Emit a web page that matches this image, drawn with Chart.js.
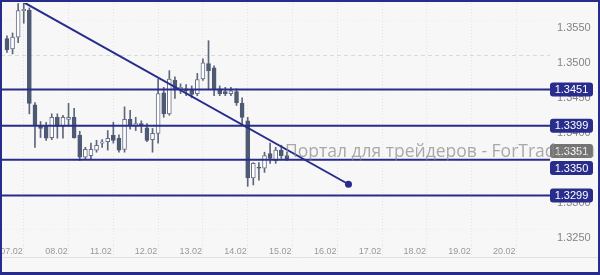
<!DOCTYPE html>
<html>
<head>
<meta charset="utf-8">
<script src="https://cdn.jsdelivr.net/npm/chart.js@4.4.1/dist/chart.umd.min.js"></script>
<style>
  html, body { margin: 0; padding: 0; background: #f7f7f7; }
  #frame { width: 596px; height: 270px; border: 2px solid #262b8c; border-bottom-width: 3px; background: #f7f7f7; overflow: hidden; }
  canvas { display: block; margin-left: -5px; margin-top: -3px; }
</style>
</head>
<body>
<div id="frame"><canvas id="c" width="601" height="273"></canvas></div>
<script>
// 3-hour candles, index 0 = 07.02 03:00, 8 candles per trading day
const opens  = [1.3524, 1.3509, 1.3526, 1.3564, 1.3565, 1.3429, 1.3399, 1.3398, 1.3382, 1.3411,
                1.3398, 1.3408, 1.3411, 1.3385, 1.3354, 1.3356, 1.3364, 1.3374, 1.3376, 1.3385,
                1.3381, 1.3365, 1.3408, 1.3399, 1.3402, 1.3396, 1.3379, 1.3388, 1.3446, 1.3416,
                1.3464, 1.3452, 1.3452, 1.3451, 1.3445, 1.3466, 1.3488, 1.3482, 1.3452, 1.3448,
                1.3445, 1.3448, 1.3431, 1.3406, 1.3324, 1.3339, 1.3338, 1.3359, 1.3349, 1.3364,
                1.3356];
const highs  = [1.3528, 1.3532, 1.3574, 1.3576, 1.3568, 1.3432, 1.3405, 1.3404, 1.3416, 1.3416,
                1.3414, 1.3431, 1.3424, 1.3391, 1.3368, 1.3374, 1.3378, 1.3379, 1.3392, 1.3404,
                1.3386, 1.3426, 1.3421, 1.3411, 1.3406, 1.3402, 1.3395, 1.3466, 1.3454, 1.3478,
                1.3469, 1.3459, 1.3458, 1.3456, 1.3474, 1.3495, 1.3521, 1.3485, 1.3456, 1.3454,
                1.3454, 1.3452, 1.3439, 1.3411, 1.3346, 1.3346, 1.3361, 1.3374, 1.3368, 1.3371,
                1.3361];
const lows   = [1.3504, 1.3502, 1.3518, 1.3546, 1.3416, 1.3368, 1.3382, 1.3378, 1.3379, 1.3381,
                1.3381, 1.3398, 1.3381, 1.3349, 1.3351, 1.3351, 1.3361, 1.3368, 1.3364, 1.3374,
                1.3361, 1.3361, 1.3394, 1.3392, 1.3389, 1.3376, 1.3361, 1.3374, 1.3411, 1.3414,
                1.3438, 1.3445, 1.3442, 1.3439, 1.3442, 1.3464, 1.3452, 1.3442, 1.3442, 1.3442,
                1.3442, 1.3428, 1.3399, 1.3312, 1.3314, 1.3321, 1.3332, 1.3345, 1.3345, 1.3352,
                1.3349];
const closes = [1.3508, 1.3526, 1.3564, 1.3566, 1.3431, 1.3399, 1.3395, 1.3381, 1.3411, 1.3398,
                1.3411, 1.3411, 1.3382, 1.3354, 1.3365, 1.3365, 1.3371, 1.3376, 1.3381, 1.3378,
                1.3364, 1.3408, 1.3399, 1.3402, 1.3399, 1.3378, 1.3388, 1.3445, 1.3416, 1.3466,
                1.3451, 1.3454, 1.3449, 1.3444, 1.3465, 1.3489, 1.3478, 1.3452, 1.3445, 1.3445,
                1.3449, 1.3432, 1.3411, 1.3324, 1.3345, 1.3338, 1.3356, 1.3352, 1.3364, 1.3356,
                1.3351];

// day boundaries (candle index) and their labels
const dayTicks  = [-1, 7, 15, 23, 31, 39, 47, 55, 63, 71, 79, 87];
const dayLabels = ['07.02', '08.02', '11.02', '12.02', '13.02', '14.02', '15.02', '16.02', '17.02', '18.02', '19.02', '20.02'];
const priceTicks = [1.3250, 1.3300, 1.3350, 1.3400, 1.3450, 1.3500, 1.3550];

const levels = [1.3451, 1.3399, 1.3350, 1.3299];
const lastPrice = 1.3351;
const trendX = [3, 61];
const trendY = [1.3576, 1.3315];

const NAVY = '#282d8c';
const DARK = '#4e5a73';
const GRID = 'rgba(0,0,0,0.07)';
const watermark = 'Портал для трейдеров - ForTrader.ru';

const idx = opens.map((_, i) => i);
const bodies = idx.map(i => ({ x: i, y: [opens[i], closes[i]] }));
const wicks  = idx.map(i => ({ x: i, y: [lows[i], highs[i]] }));
const up = idx.map(i => closes[i] >= opens[i]);

const isRound = c => c.tick && Math.abs(c.tick.value - 1.35) < 1e-9;

const overlay = {
  id: 'overlay',
  afterDraw(chart) {
    const { ctx, chartArea: a, scales: { x, y } } = chart;
    ctx.save();
    ctx.strokeStyle = '#e2e2e2';
    ctx.lineWidth = 1;
    ctx.beginPath();
    ctx.moveTo(0, Math.round(x.bottom) + 0.5);
    ctx.lineTo(chart.width, Math.round(x.bottom) + 0.5);
    ctx.stroke();

    // price tags on the right axis
    const tags = levels.map(v => ({ v, y: y.getPixelForValue(v), fill: NAVY }));
    tags.push({ v: lastPrice, y: y.getPixelForValue(lastPrice), fill: '#747474' });
    tags.sort((p, q) => p.y - q.y);
    for (let k = 1; k < tags.length; k++) {
      const p = tags[k - 1], q = tags[k];
      if (q.y - p.y < 17) { const m = (p.y + q.y) / 2; p.y = m - 8.5; q.y = m + 8.5; }
    }
    ctx.font = '11px "Liberation Sans"';
    ctx.textAlign = 'center';
    ctx.textBaseline = 'middle';
    tags.forEach(t => {
      ctx.fillStyle = t.fill;
      ctx.beginPath();
      ctx.roundRect(a.right, t.y - 7, 43, 14, 3);
      ctx.fill();
      ctx.fillStyle = '#ffffff';
      ctx.fillText(t.v.toFixed(4), a.right + 21.5, t.y + 0.5);
    });

    ctx.font = '17.5px "Open Sans"';
    ctx.textAlign = 'left';
    ctx.textBaseline = 'alphabetic';
    ctx.fillStyle = 'rgba(135,135,135,0.7)';
    ctx.fillText(watermark, 288, 158);
    ctx.restore();
  }
};

new Chart(document.getElementById('c'), {
  type: 'bar',
  data: {
    datasets: [
      ...levels.map(l => ({
        type: 'line', data: [{ x: -5, y: l }, { x: 120, y: l }],
        borderColor: NAVY, borderWidth: 2, pointRadius: 0, order: 0
      })),
      {
        type: 'line', data: trendX.map((x, k) => ({ x, y: trendY[k] })),
        borderColor: NAVY, borderWidth: 2, pointRadius: [0, 3.5],
        pointBackgroundColor: NAVY, pointBorderWidth: 0, order: 0
      },
      {
        data: bodies,
        backgroundColor: up.map(u => u ? '#ffffff' : DARK),
        borderColor: up.map(u => u ? '#68708a' : DARK),
        borderWidth: 1, borderSkipped: false, barThickness: 4,
        grouped: false, minBarLength: 1, order: 1
      },
      {
        data: wicks, backgroundColor: '#5d667b',
        barThickness: 1, grouped: false, order: 2
      }
    ]
  },
  options: {
    responsive: false,
    animation: false,
    devicePixelRatio: 1,
    layout: { padding: { left: 0, right: 0, top: 0, bottom: 15 } },
    plugins: { legend: { display: false }, tooltip: { enabled: false } },
    scales: {
      x: {
        type: 'linear', min: -1.064, max: 96.99, offset: false,
        afterBuildTicks: s => { s.ticks = dayTicks.map(v => ({ value: v })); },
        afterFit: s => { s.height = 12; s.paddingLeft = 0; s.paddingRight = 0; },
        ticks: {
          align: 'start', labelOffset: -1, padding: -12, maxRotation: 0, autoSkip: false,
          color: '#999999', font: { family: 'Liberation Sans', size: 9 },
          callback: v => dayLabels[dayTicks.indexOf(v)]
        },
        grid: { color: GRID, tickColor: GRID, drawTicks: true, tickLength: 13, tickBorderDash: [1, 2] },
        border: { display: false, dash: [1, 2] }
      },
      y: {
        position: 'right', min: 1.322786, max: 1.3575,
        afterBuildTicks: s => { s.ticks = priceTicks.map(v => ({ value: v })); },
        afterFit: s => { s.width = 48; s.paddingTop = 0; s.paddingBottom = 0; },
        ticks: {
          padding: 7, labelOffset: 8, color: '#858585',
          font: { family: 'Liberation Sans', size: 11 },
          callback: v => Number(v).toFixed(4)
        },
        grid: { drawTicks: false, color: c => isRound(c) ? '#d9d9d9' : 'rgba(0,0,0,0.04)' },
        border: { display: false, dash: c => isRound(c) ? [4, 3] : [1, 2] }
      }
    }
  },
  plugins: [overlay]
});
</script>
</body>
</html>
